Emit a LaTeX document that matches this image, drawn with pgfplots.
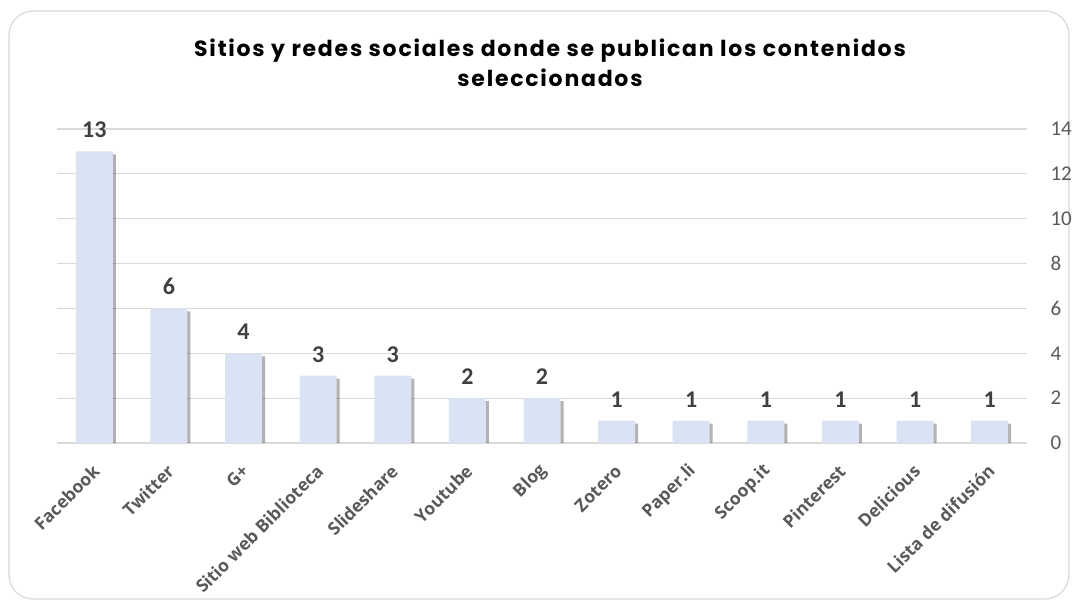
\documentclass[border=0pt]{standalone}
\usepackage{pgfplots}
\pgfplotsset{compat=1.18}
\usepackage{fontspec}
\setmainfont{Carlito}
\newfontfamily\titlefont[LetterSpace=8]{Poppins}
\newfontfamily\labelfont{Open Sans}
\usetikzlibrary{shadows}
\definecolor{barfill}{RGB}{218,227,243}
\definecolor{gridgray}{RGB}{217,217,217}
\definecolor{textgray}{RGB}{89,89,89}
\definecolor{labelgray}{RGB}{64,64,64}

\begin{document}
\begin{tikzpicture}
\path[use as bounding box] (0pt,0pt) rectangle (1078pt,609pt);
\draw[gridgray, line width=1.2pt, rounded corners=24pt] (9pt,10pt) rectangle (1069pt,598pt);
\node[font=\titlefont\bfseries\fontsize{22}{30}\selectfont, align=center, anchor=base] at (550pt,522pt)
  {Sitios y redes sociales donde se publican los contenidos\\seleccionados};
\begin{axis}[
  at={(57pt,166pt)}, anchor=south west,
  scale only axis, width=970pt, height=314pt,
  ybar, bar width=37pt,
  xmin=-0.5, xmax=12.5, ymin=0, ymax=14,
  ytick={0,2,...,14},
  xtick=data,
  xticklabels={Facebook,Twitter,G+,Sitio web Biblioteca,Slideshare,Youtube,Blog,Zotero,Paper.li,Scoop.it,Pinterest,Delicious,Lista de difusión},
  % shifts act in the rotated frame of the label
  x tick label style={rotate=45, anchor=east, yshift=-19pt, xshift=-13pt,
    font=\labelfont\bfseries\fontsize{17.5}{20}\selectfont, text=textgray},
  y tick label style={font=\fontsize{21}{24}\selectfont, text=textgray, anchor=west, xshift=20pt},
  yticklabel pos=right,
  ymajorgrids, grid style={gridgray, line width=1.2pt},
  axis line style={draw=none},
  major tick length=0pt,
  nodes near coords,
  every node near coord/.append style={font=\bfseries\fontsize{24}{28}\selectfont, text=labelgray, yshift=10pt},
  /pgf/number format/assume math mode=true,
]
\addplot[fill=barfill, draw=none, drop shadow={shadow xshift=3pt, shadow yshift=-3pt, opacity=0.3, fill=black}]
  coordinates {(0,13) (1,6) (2,4) (3,3) (4,3) (5,2) (6,2) (7,1) (8,1) (9,1) (10,1) (11,1) (12,1)};
\end{axis}
\end{tikzpicture}
\end{document}
